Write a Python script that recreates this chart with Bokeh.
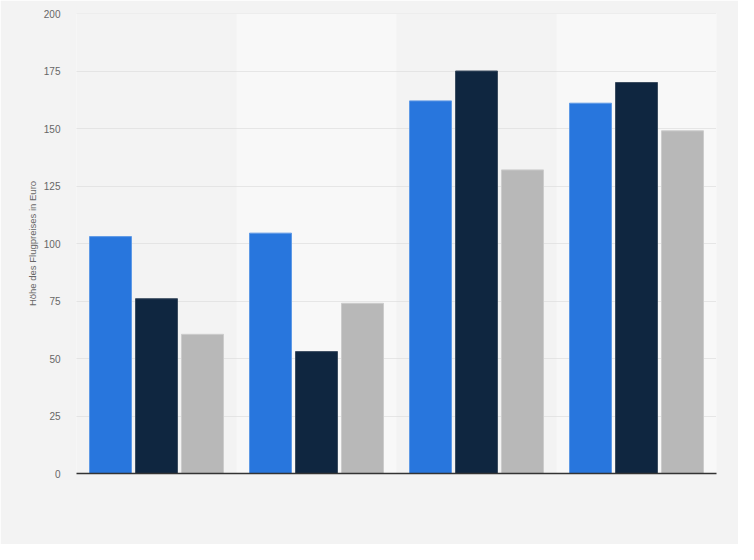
from bokeh.plotting import figure
from bokeh.models import FixedTicker, ColumnDataSource, Span
from bokeh.transform import dodge
from bokeh.embed import file_html
from bokeh.resources import INLINE

# --- data ---
categories = ["Gruppe 1", "Gruppe 2", "Gruppe 3", "Gruppe 4"]
series_a = [103, 104.5, 162, 161]
series_b = [76, 53, 175, 170]
series_c = [60.5, 74, 132, 149]
y_ticks = [0, 25, 50, 75, 100, 125, 150, 175, 200]
y_label = "Höhe des Flugpreises in Euro"

BG = "#f3f3f3"
BAND = "#f8f8f8"
COLORS = ["#2876dd", "#0f2640", "#b8b8b8"]
OUTLINES = ["#5f9ae6", "#3c4d60", "#cccccc"]

p = figure(
    x_range=categories, y_range=(0, 200),
    width=738, height=544,
    output_backend="svg", toolbar_location=None,
    min_border_left=76, min_border_right=22, min_border_top=13, min_border_bottom=71,
    background_fill_color=BG, border_fill_color=BG,
)
p.outline_line_color = None

# alternating bands
band_cats = [c for i, c in enumerate(categories) if i % 2 == 1]
p.vbar(x=band_cats, top=[200] * len(band_cats), bottom=0, width=1.0,
       fill_color=BAND, line_color=None, level="underlay")

src = ColumnDataSource(dict(cat=categories, a=series_a, b=series_b, c=series_c))
bw = 0.2625
off = 0.2875
for key, dx, col, oc in [("a", -off, COLORS[0], OUTLINES[0]),
                         ("b", 0.0, COLORS[1], OUTLINES[1]),
                         ("c", off, COLORS[2], OUTLINES[2])]:
    p.vbar(x=dodge("cat", dx, range=p.x_range), top=key, width=bw, source=src,
           fill_color=col, line_color=oc, line_width=1)

# axes
p.yaxis.ticker = FixedTicker(ticks=y_ticks)
p.yaxis.axis_line_color = None
p.yaxis.major_tick_line_color = None
p.yaxis.minor_tick_line_color = None
p.yaxis.major_label_standoff = 10
p.yaxis.major_label_text_font = "Liberation Sans"
p.yaxis.major_label_text_font_size = "10px"
p.yaxis.major_label_text_color = "#666666"
p.yaxis.axis_label = y_label
p.yaxis.axis_label_text_font = "Liberation Sans"
p.yaxis.axis_label_text_font_size = "9.5px"
p.yaxis.axis_label_text_font_style = "normal"
p.yaxis.axis_label_text_color = "#666666"
p.yaxis.axis_label_standoff = 3

p.xaxis.axis_line_color = "#333333"
p.xaxis.axis_line_width = 1.5
p.xaxis.major_tick_line_color = None
p.xaxis.minor_tick_line_color = None
p.xaxis.major_label_text_color = None
p.xaxis.major_label_text_font_size = "1px"

p.xgrid.grid_line_color = None
p.ygrid.grid_line_color = "#d4d4d4"
p.ygrid.grid_line_dash = "1 1"
p.ygrid.grid_line_width = 1
p.ygrid.level = "underlay"

top_line = Span(location=200, dimension="width", line_color="#d4d4d4",
                line_dash="1 1", line_width=1, level="underlay")
p.add_layout(top_line)

open("out.html", "w").write(file_html(p, INLINE))
